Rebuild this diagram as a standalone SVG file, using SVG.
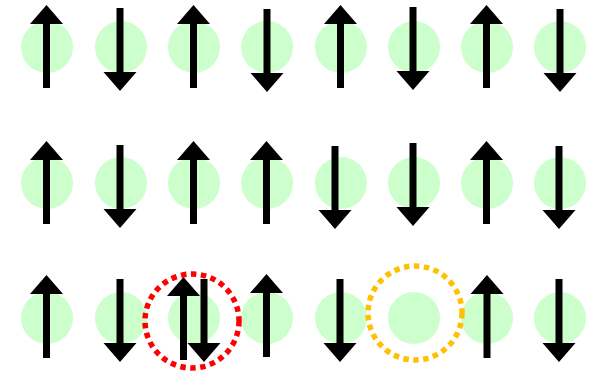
<svg xmlns="http://www.w3.org/2000/svg" width="600" height="374" viewBox="0 0 600 374">
<defs>
<style>
.site{fill:#ccffcc}
.arr{fill:#000}
.ring{fill:none;stroke-width:5.5;stroke-dasharray:5.5,4.5}
</style>
<path id="up" d="M-3.5,83 V19 H-16.5 L0,0 L16.5,19 H3.5 V83 Z"/>
<path id="down" d="M-3.5,0 V64 H-16.5 L0,83 L16.5,64 H3.5 V0 Z"/>
</defs>
<rect width="600" height="374" fill="#fff"/>
<g id="sites">
<circle class="site" cx="47" cy="47" r="26"/><circle class="site" cx="121" cy="47" r="26"/><circle class="site" cx="194" cy="47" r="26"/><circle class="site" cx="267" cy="47" r="26"/><circle class="site" cx="341" cy="47" r="26"/><circle class="site" cx="414" cy="47" r="26"/><circle class="site" cx="487" cy="47" r="26"/><circle class="site" cx="560" cy="47" r="26"/>
<circle class="site" cx="47" cy="183" r="26"/><circle class="site" cx="121" cy="183" r="26"/><circle class="site" cx="194" cy="183" r="26"/><circle class="site" cx="267" cy="183" r="26"/><circle class="site" cx="341" cy="183" r="26"/><circle class="site" cx="414" cy="183" r="26"/><circle class="site" cx="487" cy="183" r="26"/><circle class="site" cx="560" cy="183" r="26"/>
<circle class="site" cx="47" cy="318" r="26"/><circle class="site" cx="121" cy="318" r="26"/><circle class="site" cx="194" cy="318" r="26"/><circle class="site" cx="267" cy="318" r="26"/><circle class="site" cx="341" cy="318" r="26"/><circle class="site" cx="414" cy="318" r="26"/><circle class="site" cx="487" cy="318" r="26"/><circle class="site" cx="560" cy="318" r="26"/>
</g>
<g id="spins" class="arr">
<use href="#up" x="46.5" y="5"/><use href="#down" x="120" y="8"/><use href="#up" x="193.5" y="5"/><use href="#down" x="267" y="9"/><use href="#up" x="340.5" y="5"/><use href="#down" x="413" y="7"/><use href="#up" x="486.5" y="5"/><use href="#down" x="560" y="9"/>
<use href="#up" x="46.5" y="141"/><use href="#down" x="120" y="145"/><use href="#up" x="193.5" y="141"/><use href="#up" x="266.5" y="141"/><use href="#down" x="335" y="146"/><use href="#down" x="413" y="143"/><use href="#up" x="486.5" y="141"/><use href="#down" x="559" y="146"/>
<use href="#up" x="46.5" y="275"/><use href="#down" x="120" y="279"/><use href="#up" x="183.5" y="277"/><use href="#down" x="204" y="279"/><use href="#up" x="266.5" y="274"/><use href="#down" x="340" y="279"/><use href="#up" x="487" y="275"/><use href="#down" x="559" y="279"/>
</g>
<g id="doublon"><circle class="ring" cx="192" cy="321" r="47" stroke="#ff0000"/></g>
<g id="holon"><circle class="ring" cx="415" cy="313" r="47" stroke="#ffc000"/></g>
</svg>
